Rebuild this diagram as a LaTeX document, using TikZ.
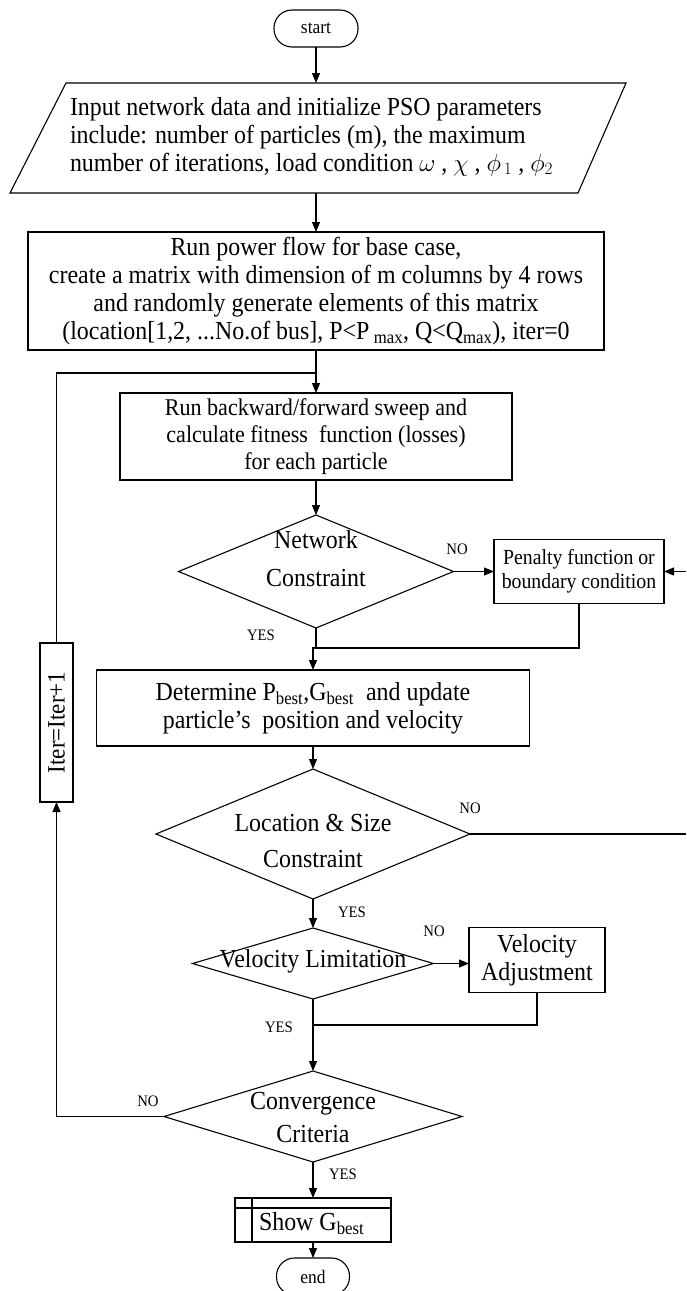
\documentclass[tikz,border=0pt]{standalone}
\usepackage{fontspec}
\setmainfont{Liberation Serif}[FakeStretch=0.92]
\usetikzlibrary{shapes.geometric,arrows.meta}
\begin{document}
\begin{tikzpicture}[x=1pt,y=-1pt,
  line width=1.1pt,
  every node/.style={inner sep=0pt, outer sep=0pt},
  box/.style={draw, line width=1.1pt, align=center, inner sep=0pt},
  big/.style={font=\fontsize{26}{28}\selectfont},
  mid/.style={font=\fontsize{24}{27}\selectfont},
  sml/.style={font=\fontsize{21.5}{24}\selectfont},
  lab/.style={font=\fontsize{16}{16}\selectfont},
  term/.style={draw, line width=1.1pt, rounded corners=18pt, minimum width=#1, minimum height=37pt, font=\fontsize{19}{19}\selectfont},
  dia/.style={draw, diamond, line width=1.1pt, inner sep=0pt},
  arr/.style={-{Triangle[length=10pt,width=8pt]}},
]
\useasboundingbox (0,0) rectangle (686,1291);
\clip (0,0) rectangle (686,1291);

% start
\node[term=84pt] (start) at (316,28.5) {start};

% input parallelogram
\coordinate (p1) at (66,83);
\coordinate (p2) at (626,83);
\coordinate (p3) at (578,193);
\coordinate (p4) at (10,193);
\draw (p1) -- (p2) -- (p3) -- (p4) -- cycle;
\node[big, align=left, anchor=west] (inp) at (70,136.5) {Input network data and initialize PSO parameters\\
include: number of particles (m), the maximum\\
number of iterations, load condition $\omega$ , $\chi$ , $\phi_{\,1}$ , $\phi_{2}$};
\coordinate (inpT) at (316,83);
\coordinate (inpB) at (316,193);

% power flow box
\node[box, big, minimum width=576pt, minimum height=118pt] (pf) at (316,291) {Run power flow for base case,\\
create a matrix with dimension of m columns by 4 rows\\
and randomly generate elements of this matrix\\
(location[1,2, ...No.of bus], P<P\,\textsubscript{max}, Q<Q\textsubscript{max}), iter=0};

% backward/forward box
\node[box, mid, minimum width=392pt, minimum height=87pt] (b2) at (316,436.5) {Run backward/forward sweep and\\
calculate fitness \ function (losses)\\
for each particle};

% network constraint
\node[dia, minimum width=275pt, minimum height=113pt] (net) at (316,571.5) {};
\node[align=center, font=\fontsize{26}{38}\selectfont] (nett) at (316,559) {Network\\Constraint};

% penalty box
\node[box, sml, minimum width=170pt, minimum height=64pt] (pen) at (579,571.5) {Penalty function or\\boundary condition};
\coordinate (redge1) at (686,571.5);

% determine box
\node[box, big, minimum width=433pt, minimum height=76pt] (det) at (313,708) {Determine P\textsubscript{best},G\textsubscript{best} \ and update\\
particle's \ position and velocity};

% location & size
\node[dia, minimum width=314pt, minimum height=130pt] (loc) at (313,834) {};
\node[align=center, font=\fontsize{26}{36}\selectfont] (loct) at (313,841) {Location \& Size\\Constraint};
\coordinate (redge2) at (686,834);

% velocity limitation
\node[dia, minimum width=241pt, minimum height=71pt] (vel) at (313,963.5) {};
\node[big] (velt) at (313,961) {Velocity Limitation};

% velocity adjustment
\node[box, big, minimum width=136pt, minimum height=65pt] (adj) at (537,960) {Velocity\\Adjustment};

% convergence
\node[dia, minimum width=298pt, minimum height=91pt] (conv) at (313,1116.5) {};
\node[align=center, font=\fontsize{26}{33}\selectfont] (convt) at (313,1118) {Convergence\\Criteria};

% show Gbest
\node[box, minimum width=156pt, minimum height=44pt] (show) at (313,1220) {};
\draw ([yshift=-10pt]show.north west) -- ([yshift=-10pt]show.north east);
\draw ([xshift=17pt]show.north west) -- ([xshift=17pt]show.south west);
\node[big, anchor=west] (showt) at (259,1224) {Show G\textsubscript{best}};

% end
\node[term=73pt] (endn) at (313,1276.5) {end};

% iter box
\node[box, minimum width=33pt, minimum height=159pt] (iter) at (56.5,722.5) {};
\node[rotate=90, font=\fontsize{25}{25}\selectfont] (itert) at (iter.center) {Iter=Iter+1};

% connectors
\coordinate (loopT) at (316,373);
\coordinate (j1) at (316,648);
\coordinate (j2) at (313,1025);
\draw[arr] (start.south) -- (inpT);
\draw[arr] (inpB) -- (pf.north);
\draw[arr] (pf.south) -- (b2.north);
\draw (iter.north) -- (iter.north |- loopT) -- (loopT);
\draw[arr] (b2.south) -- (net.north);
\draw[arr] (net.east) -- (net.east -| pen.west);
\draw[arr] (redge1) -- (pen.east);
\draw (pen.south) |- (j1);
\draw[arr] (net.south) -- (j1) -- (j1 -| det.north) -- (det.north);
\draw[arr] (det.south) -- (loc.north);
\draw (loc.east) -- (redge2);
\draw[arr] (loc.south) -- (vel.north);
\draw[arr] (vel.east) -- (vel.east -| adj.west);
\draw (adj.south) |- (j2);
\draw[arr] (vel.south) -- (conv.north);
\draw[arr] (conv.west) -- (conv.west -| iter.south) -- (iter.south);
\draw[arr] (conv.south) -- (show.north);
\draw[arr] (show.south) -- (endn.north);

% labels
\node[lab] (l1) at (457,549) {NO};
\node[lab] (l2) at (261,635) {YES};
\node[lab] (l3) at (470,808) {NO};
\node[lab] (l4) at (352,912) {YES};
\node[lab] (l5) at (434,931) {NO};
\node[lab] (l6) at (279,1027) {YES};
\node[lab] (l7) at (148,1101) {NO};
\node[lab] (l8) at (343,1174) {YES};
\end{tikzpicture}
\end{document}
